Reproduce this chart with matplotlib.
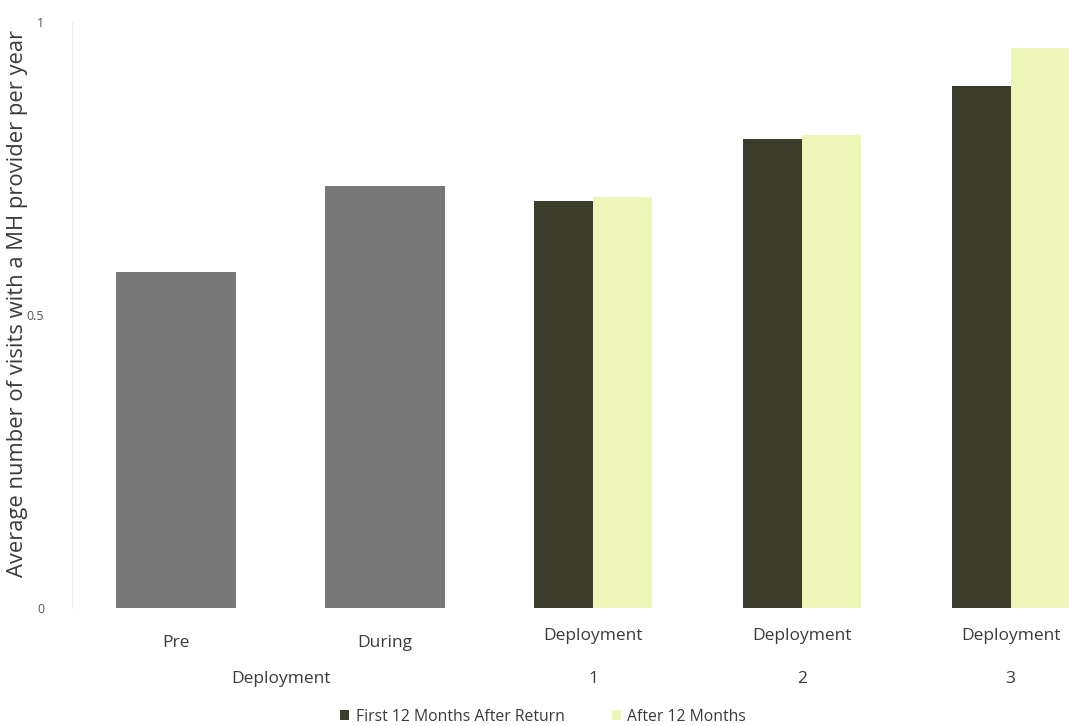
import matplotlib.pyplot as plt
import numpy as np

plt.rcParams['font.family'] = ['Open Sans', 'DejaVu Sans']

# average MH provider visits per year
single_labels = ["Pre", "During"]
single_values = [0.573, 0.720]

dep_labels = ["1", "2", "3"]
first_12 = [0.695, 0.800, 0.891]
after_12 = [0.701, 0.807, 0.956]

series_names = ["First 12 Months After Return", "After 12 Months"]
y_ticks = [0, 0.5, 1]
y_tick_labels = ["0", "0.5", "1"]

gray = "#787878"
dark = "#3b3d2a"
light = "#eef5b9"
text_col = "#3a3a3a"

fig = plt.figure(figsize=(10.69, 7.26), dpi=100)
ax = fig.add_axes([72 / 1069, 118 / 726, 997 / 1069, 586 / 726])

x_single = np.arange(len(single_labels))
x_dep = np.arange(len(dep_labels)) + len(single_labels)
w = 0.575
hw = 0.283

ax.bar(x_single, single_values, width=w, color=gray)
b1 = ax.bar(x_dep - hw / 2, first_12, width=hw, color=dark, label=series_names[0])
b2 = ax.bar(x_dep + hw / 2, after_12, width=hw, color=light, label=series_names[1])

ax.set_xlim(-0.5, 4.28)
ax.set_ylim(0, 1)

for s in ["top", "right", "bottom"]:
    ax.spines[s].set_visible(False)
ax.spines["left"].set_color("#eeeeee")
ax.spines["left"].set_linewidth(0.8)

ax.set_yticks(y_ticks)
ax.set_yticklabels(y_tick_labels, fontsize=9, color="#555555")
ax.tick_params(axis="y", length=0, pad=20)
ax.set_xticks([])

ax.set_ylabel("Average number of visits with a MH provider per year",
              fontsize=15.8, color=text_col)
ax.yaxis.set_label_coords(-0.044, 0.519)

# two-row category labels
trans = ax.get_xaxis_transform()
row1 = -(643 - 608) / 586
row1_dep = -(636 - 608) / 586
row2 = -(679 - 608) / 586
for x, lab in zip(x_single, single_labels):
    ax.text(x, row1, lab, transform=trans, ha="center", va="center",
            fontsize=12.5, color=text_col)
ax.text(x_single.mean(), row2, "Deployment", transform=trans, ha="center",
        va="center", fontsize=12.5, color=text_col)
for x, lab in zip(x_dep, dep_labels):
    ax.text(x, row1_dep, "Deployment", transform=trans, ha="center",
            va="center", fontsize=12.5, color=text_col)
    ax.text(x, row2, lab, transform=trans, ha="center", va="center",
            fontsize=12.5, color=text_col)

fig.legend(handles=[b1, b2], loc="center", bbox_to_anchor=(543 / 1069, 1 - 717 / 726),
           ncol=2, frameon=False, fontsize=11.3, handlelength=0.6, handleheight=0.6,
           handletextpad=0.4, columnspacing=3.0, labelcolor=text_col)

fig.savefig("out.png", dpi=100)
